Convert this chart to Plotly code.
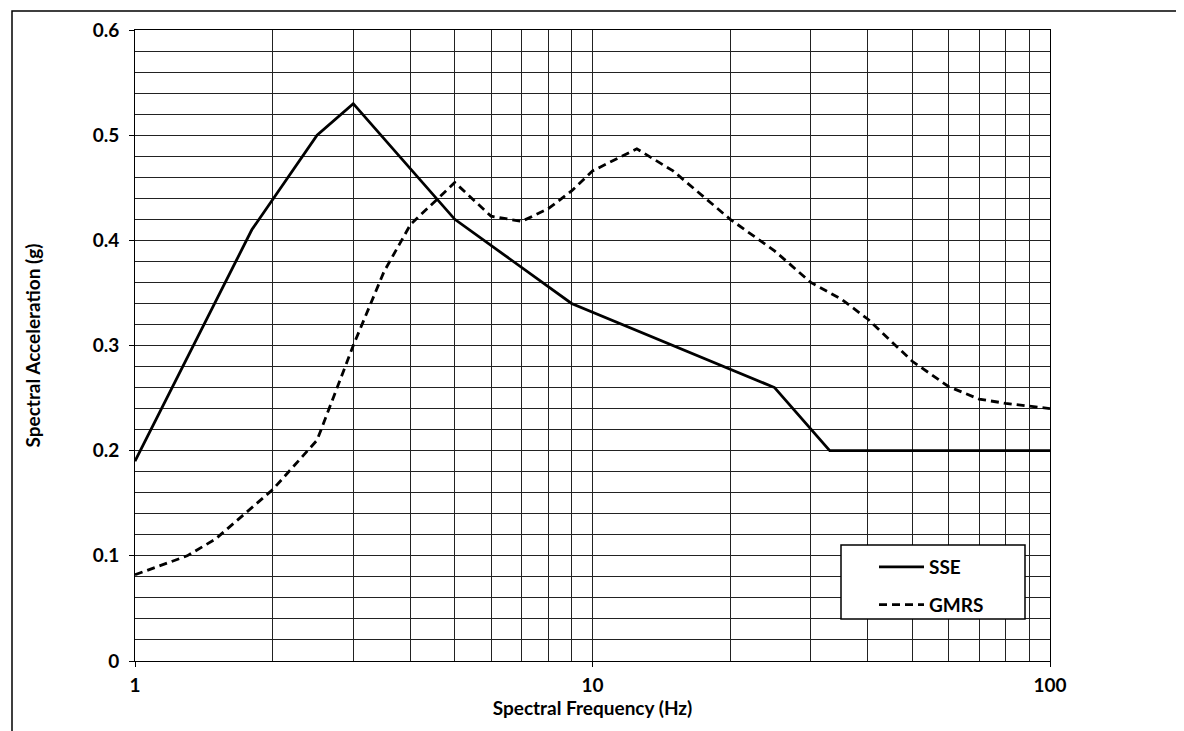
import plotly.graph_objects as go

# SSE spectrum
sse_freq = [1, 1.8, 2.5, 3, 5, 9, 25, 33, 100]
sse_acc = [0.19, 0.41, 0.50, 0.53, 0.42, 0.34, 0.26, 0.20, 0.20]

# GMRS spectrum
gmrs_freq = [1, 1.3, 1.5, 2, 2.5, 3, 3.5, 4, 5, 6, 7, 8, 9, 10, 12.5, 15, 20, 25, 30, 35, 40, 50, 60, 70, 80, 90, 100]
gmrs_acc = [0.082, 0.100, 0.116, 0.163, 0.21, 0.30, 0.37, 0.415, 0.455, 0.423, 0.418, 0.43, 0.447, 0.466, 0.487, 0.466, 0.42, 0.39, 0.36, 0.344, 0.325, 0.285, 0.261, 0.249, 0.245, 0.242, 0.24]

x_major = [1, 10, 100]
x_minor = [2, 3, 4, 5, 6, 7, 8, 9, 20, 30, 40, 50, 60, 70, 80, 90]
y_ticks = [0, 0.1, 0.2, 0.3, 0.4, 0.5, 0.6]
y_labels = ["0", "0.1", "0.2", "0.3", "0.4", "0.5", "0.6"]

FONT = "Lato, 'Open Sans', sans-serif"
GRID = "#222222"
FS = 19

fig = go.Figure()
fig.add_trace(go.Scatter(x=sse_freq, y=sse_acc, mode="lines", name="SSE",
                         legendgroup="a",
                         line=dict(color="black", width=2.8)))
fig.add_trace(go.Scatter(x=gmrs_freq, y=gmrs_acc, mode="lines", name="GMRS",
                         legendgroup="b",
                         line=dict(color="black", width=2.8, dash="8px,5px")))

L, R, T, B = 127, 142, 22, 78
pw = 1184 - L - R
ph = 731 - T - B

def px_x(p):
    return (p - L) / pw

def px_y(p):
    return (731 - B - p) / ph

fig.update_layout(
    width=1184, height=731,
    margin=dict(l=L, r=R, t=T, b=B),
    paper_bgcolor="white", plot_bgcolor="white",
    font=dict(family=FONT, size=FS, color="black"),
    showlegend=True,
    legend=dict(
        x=px_x(866), y=px_y(540), xanchor="left", yanchor="top",
        bgcolor="rgba(0,0,0,0)", borderwidth=0,
        font=dict(family=FONT, size=FS, color="black", weight="bold"),
        itemwidth=45, tracegroupgap=10,
    ),
    xaxis=dict(
        type="log", range=[0, 2], automargin=False,
        tickmode="array", tickvals=x_major, ticktext=["1", "10", "100"],
        showgrid=True, gridcolor=GRID, gridwidth=1,
        minor=dict(tickmode="array", tickvals=x_minor, showgrid=True,
                   gridcolor=GRID, gridwidth=1),
        showline=True, linecolor="black", linewidth=1, mirror=True,
        ticks="outside", ticklen=5, tickcolor="black",
        ticklabelstandoff=2,
        tickfont=dict(family=FONT, size=FS, weight="bold"),
        title=dict(text="Spectral Frequency (Hz)", standoff=0,
                   font=dict(family=FONT, size=FS, weight="bold")),
        zeroline=False,
    ),
    yaxis=dict(
        range=[0, 0.6], automargin=False,
        tickmode="array", tickvals=y_ticks, ticktext=y_labels,
        showgrid=True, gridcolor=GRID, gridwidth=1,
        minor=dict(dtick=0.02, showgrid=True, gridcolor=GRID, gridwidth=1),
        showline=True, linecolor="black", linewidth=1, mirror=True,
        ticks="outside", ticklen=5, tickcolor="black",
        ticklabelstandoff=6,
        tickfont=dict(family=FONT, size=FS, weight="bold"),
        title=dict(text="Spectral Acceleration (g)", standoff=46,
                   font=dict(family=FONT, size=FS, weight="bold")),
        zeroline=False,
    ),
    shapes=[
        # legend box
        dict(type="rect", xref="paper", yref="paper",
             x0=px_x(833), x1=px_x(1017), y0=px_y(611), y1=px_y(537),
             fillcolor="white", line=dict(color="black", width=1.5), layer="above"),
        # outer chart frame
        dict(type="rect", xref="paper", yref="paper",
             x0=px_x(4), x1=px_x(1181), y0=px_y(726), y1=px_y(3),
             line=dict(color="black", width=1.5), fillcolor="rgba(0,0,0,0)", layer="above"),
    ],
)

fig.write_html("out.html")
